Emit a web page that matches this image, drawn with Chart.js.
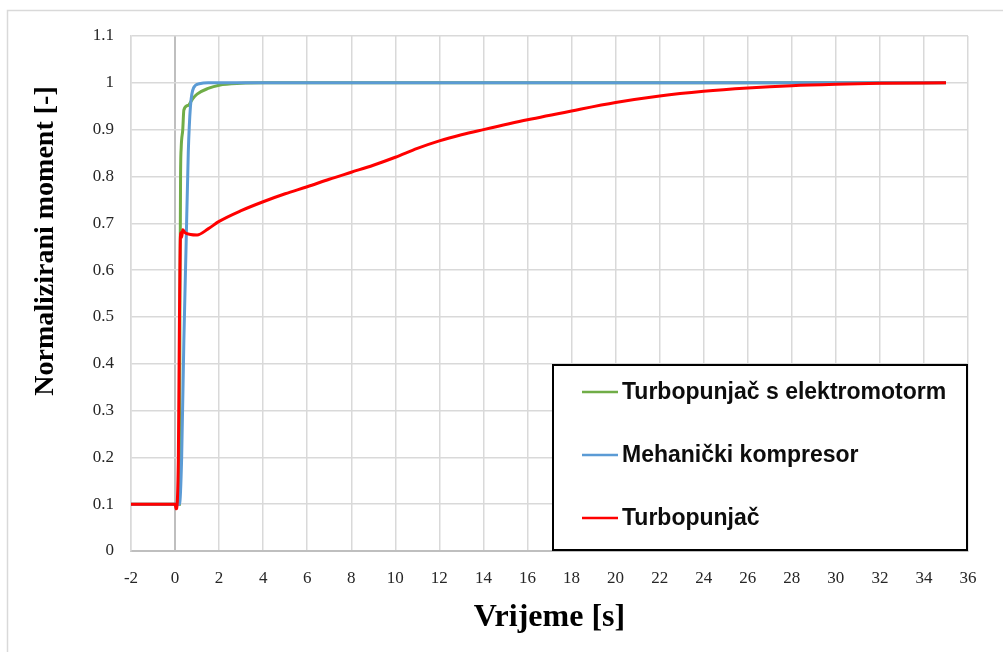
<!DOCTYPE html>
<html>
<head>
<meta charset="utf-8">
<script src="https://cdn.jsdelivr.net/npm/chart.js@4"></script>
<style>
  html, body { margin: 0; padding: 0; background: #fff; }
  #wrap { position: relative; width: 1003px; height: 652px; overflow: hidden; }
</style>
</head>
<body>
<div id="wrap"><canvas id="grafikon" width="1003" height="652"></canvas></div>
<script>
// Podaci
const nazivi = ["Turbopunjač s elektromotorm", "Mehanički kompresor", "Turbopunjač"];
const boje = ["#70ad47", "#5b9bd5", "#ff0000"];
const naslovX = "Vrijeme [s]";
const naslovY = "Normalizirani moment [-]";

const eTurboX = [-2, 0, 0.2, 0.22, 0.25, 0.28, 0.35, 0.4, 0.6, 0.8, 1, 1.5, 2, 3, 4, 35];
const eTurboY = [0.1, 0.1, 0.1, 0.5, 0.8, 0.862, 0.9, 0.942, 0.952, 0.966, 0.976, 0.988, 0.995, 0.999, 1, 1];

const mehX = [-2, 0, 0.2, 0.3, 0.4, 0.5, 0.6, 0.7, 0.85, 1.1, 1.5, 35];
const mehY = [0.1, 0.1, 0.1, 0.2, 0.45, 0.65, 0.85, 0.95, 0.99, 0.998, 1, 1];

const turboX = [-2, 0, 0.05, 0.15, 0.2, 0.25, 0.3, 0.35, 0.45, 0.7, 1, 1.5, 2, 3, 4, 5, 6, 7, 8, 9, 10, 11, 12, 13, 14, 16, 18, 20, 22, 24, 26, 28, 30, 32, 35];
const turboY = [0.1, 0.1, 0.09, 0.2, 0.5, 0.68, 0.67, 0.686, 0.68, 0.676, 0.675, 0.688, 0.704, 0.727, 0.746, 0.763, 0.778, 0.794, 0.809, 0.824, 0.841, 0.86, 0.876, 0.889, 0.9, 0.921, 0.94, 0.958, 0.972, 0.982, 0.989, 0.994, 0.997, 0.999, 1];

const xTicks = [-2, 0, 2, 4, 6, 8, 10, 12, 14, 16, 18, 20, 22, 24, 26, 28, 30, 32, 34, 36];
const yTicks = [0, 0.1, 0.2, 0.3, 0.4, 0.5, 0.6, 0.7, 0.8, 0.9, 1, 1.1];

function tocke(xs, ys) {
  return xs.map((x, i) => ({ x: x, y: ys[i] }));
}

// okvir, naslov osi y i legenda
const okvirPlugin = {
  id: "okvir",
  beforeDraw(chart) {
    const c = chart.ctx;
    c.save();
    c.strokeStyle = "#d9d9d9";
    c.lineWidth = 1.5;
    c.strokeRect(7.5, 10.5, 1010, 660);
    // naslov osi y
    c.translate(46, 241);
    c.rotate(-Math.PI / 2);
    c.font = "bold 28px 'Liberation Serif', 'Times New Roman', serif";
    c.fillStyle = "#000";
    c.textAlign = "center";
    c.textBaseline = "middle";
    c.fillText(naslovY, 0, 0);
    c.restore();
  },
  afterDatasetsDraw(chart) {
    const c = chart.ctx;
    c.save();
    c.fillStyle = "#fff";
    c.fillRect(553, 365, 414, 185);
    c.strokeStyle = "#000";
    c.lineWidth = 2;
    c.strokeRect(553, 365, 414, 185);
    const redovi = [392, 455, 518];
    c.font = "bold 23px 'Liberation Sans', Arial, sans-serif";
    c.textBaseline = "middle";
    chart.data.datasets.forEach((ds, i) => {
      c.strokeStyle = ds.borderColor;
      c.lineWidth = 2.5;
      c.beginPath();
      c.moveTo(582, redovi[i]);
      c.lineTo(618, redovi[i]);
      c.stroke();
      c.fillStyle = "#0d0d0d";
      c.fillText(ds.label, 622, redovi[i] + 1);
    });
    c.restore();
  }
};

const ctx = document.getElementById("grafikon").getContext("2d");
new Chart(ctx, {
  type: "line",
  data: {
    datasets: [
      { label: nazivi[0], data: tocke(eTurboX, eTurboY), borderColor: boje[0], borderWidth: 3, order: 2 },
      { label: nazivi[1], data: tocke(mehX, mehY), borderColor: boje[1], borderWidth: 3, order: 1 },
      { label: nazivi[2], data: tocke(turboX, turboY), borderColor: boje[2], borderWidth: 3, order: 0 },
    ],
  },
  options: {
    responsive: false,
    animation: false,
    events: [],
    layout: { padding: { top: 36, right: 35, left: 0, bottom: 0 } },
    elements: {
      point: { radius: 0 },
      line: { cubicInterpolationMode: "monotone", fill: false },
    },
    plugins: {
      legend: { display: false },
      tooltip: { enabled: false },
    },
    scales: {
      x: {
        type: "linear",
        min: -2,
        max: 36,
        afterBuildTicks: (s) => { s.ticks = xTicks.map((v) => ({ value: v })); },
        afterFit: (s) => { s.height = 101; },
        grid: {
          color: (c) => (c.tick && c.tick.value === 0 ? "#bfbfbf" : "#d9d9d9"),
          lineWidth: (c) => (c.tick && c.tick.value === 0 ? 2 : 1.5),
          drawTicks: false,
        },
        border: { color: "#bfbfbf", width: 2 },
        ticks: {
          padding: 17,
          color: "#262626",
          maxRotation: 0,
          font: { family: "'Liberation Serif', 'Times New Roman', serif", size: 17 },
        },
        title: {
          display: true,
          text: naslovX,
          color: "#000",
          padding: { bottom: 15 },
          font: { family: "'Liberation Serif', 'Times New Roman', serif", size: 32, weight: "bold" },
        },
      },
      y: {
        min: 0,
        max: 1.1,
        afterBuildTicks: (s) => { s.ticks = yTicks.map((v) => ({ value: v })); },
        afterFit: (s) => { s.width = 131; },
        grid: { color: "#d9d9d9", lineWidth: 1.5, drawTicks: false },
        border: { color: "#d9d9d9", width: 1.5 },
        ticks: {
          padding: 17,
          color: "#262626",
          callback: (v) => String(Number(v.toFixed(1))),
          font: { family: "'Liberation Serif', 'Times New Roman', serif", size: 17 },
        },
        title: { display: false },
      },
    },
  },
  plugins: [okvirPlugin],
});
</script>
</body>
</html>
